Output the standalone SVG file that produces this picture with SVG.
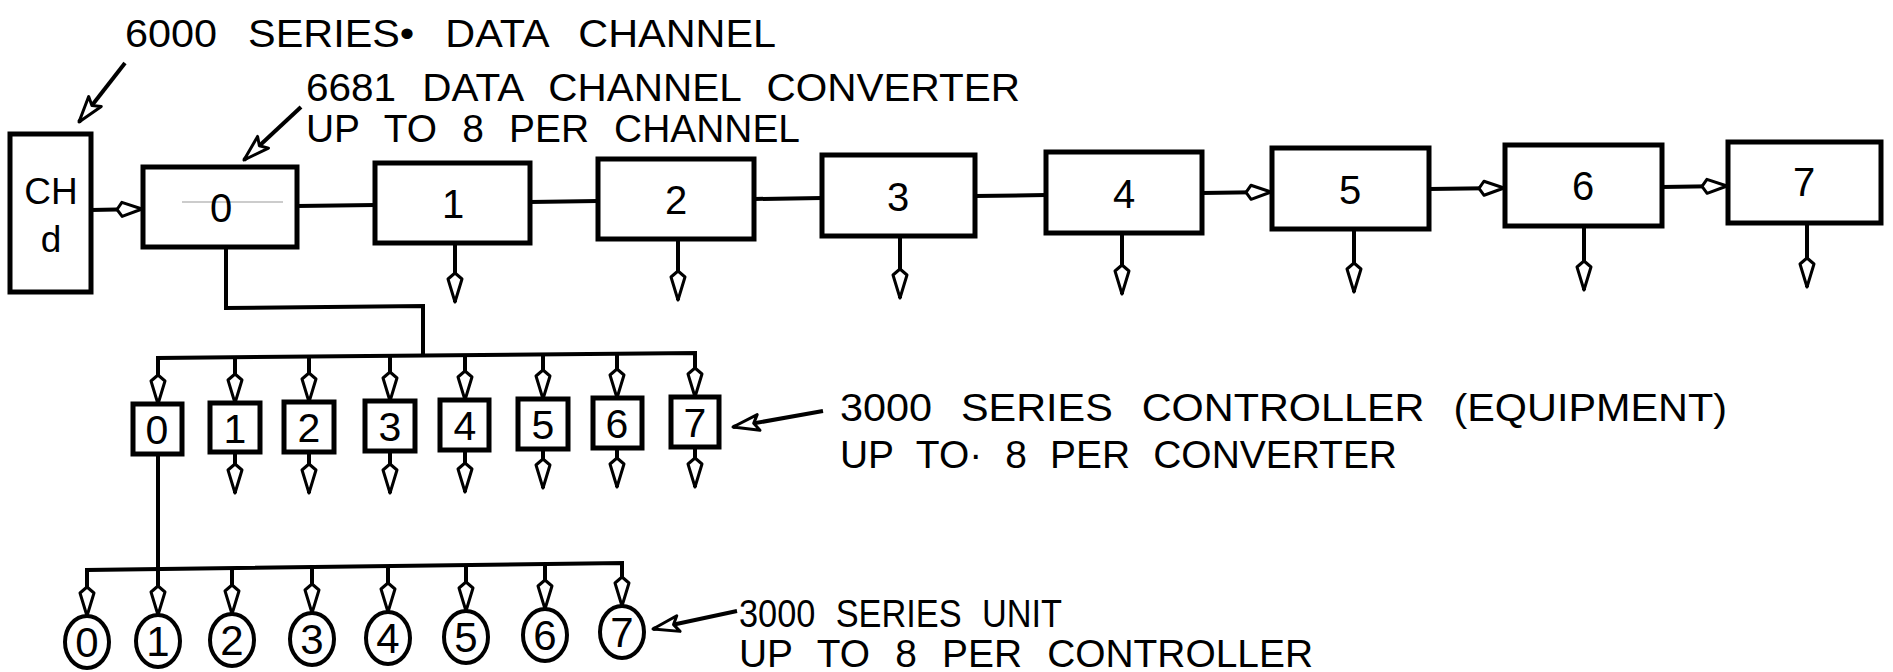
<svg xmlns="http://www.w3.org/2000/svg" width="1893" height="672" viewBox="0 0 1893 672">
<defs>
<style>
.box{fill:#fff;stroke:#000;stroke-width:5}
.ln{fill:none;stroke:#000;stroke-width:4;stroke-linejoin:miter}
.lbl{font-family:"Liberation Sans",Arial,sans-serif;font-size:38px;fill:#000}
.dg{font-family:"Liberation Sans",Arial,sans-serif;font-size:40px;fill:#000;text-anchor:middle}
.dch{font-family:"Liberation Sans",Arial,sans-serif;font-size:37px;fill:#000;text-anchor:middle}
.dc{font-family:"Liberation Sans",Arial,sans-serif;font-size:41px;fill:#000;text-anchor:middle}
.du{font-family:"Liberation Sans",Arial,sans-serif;font-size:42px;fill:#000;text-anchor:middle}
.unit{fill:#fff;stroke:#000;stroke-width:4}
.down{marker-end:url(#kite)}
.right{marker-end:url(#tri)}
.point{marker-end:url(#head)}
</style>
<marker id="kite" markerUnits="userSpaceOnUse" markerWidth="40" markerHeight="20" refX="29" refY="0" orient="auto" overflow="visible">
<path d="M0,0 L6,-7 L29,0 L6,7 Z" fill="#fff" stroke="#000" stroke-width="3" stroke-linejoin="round"/>
</marker>
<marker id="tri" markerUnits="userSpaceOnUse" markerWidth="30" markerHeight="20" refX="25" refY="0" orient="auto" overflow="visible">
<path d="M0,0 L5,-7 L25,0 L5,7 Z" fill="#fff" stroke="#000" stroke-width="3" stroke-linejoin="round"/>
</marker>
<marker id="head" markerUnits="userSpaceOnUse" markerWidth="30" markerHeight="20" refX="26" refY="0" orient="auto" overflow="visible">
<path d="M0,-8 L26,0 L0,8 L5,0 Z" fill="#fff" stroke="#000" stroke-width="3" stroke-linejoin="round"/>
</marker>
</defs>
<rect width="1893" height="672" fill="#fff"/>

<g id="connectors">
<path class="ln right" d="M91,210 L142,209"/>
<path class="ln" d="M297,206 L375,205"/>
<path class="ln" d="M530,202 L598,201"/>
<path class="ln" d="M754,199 L822,198"/>
<path class="ln" d="M975,196 L1046,195"/>
<path class="ln right" d="M1202,193 L1271,192"/>
<path class="ln right" d="M1429,189 L1504,188"/>
<path class="ln right" d="M1662,187 L1727,186"/>
<path class="ln down" d="M455,243 L455,302"/>
<path class="ln down" d="M678,239 L678,300"/>
<path class="ln down" d="M900,236 L900,298"/>
<path class="ln down" d="M1122,233 L1122,294"/>
<path class="ln down" d="M1354,229 L1354,292"/>
<path class="ln down" d="M1584,226 L1584,290"/>
<path class="ln down" d="M1807,223 L1807,287"/>
<path class="ln" d="M226,247 L226,308 L423,306 L423,357"/>
<path class="ln" d="M158,383 L158,358 L695,353 L695,380"/>
<path class="ln down" d="M158,358 L158,404"/>
<path class="ln down" d="M235,357 L235,403"/>
<path class="ln down" d="M309,357 L309,402"/>
<path class="ln down" d="M390,356 L390,401"/>
<path class="ln down" d="M465,355 L465,400"/>
<path class="ln down" d="M543,354 L543,399"/>
<path class="ln down" d="M617,354 L617,398"/>
<path class="ln down" d="M695,353 L695,397"/>
<path class="ln down" d="M235,452 L235,493"/>
<path class="ln down" d="M309,452 L309,493"/>
<path class="ln down" d="M390,451 L390,493"/>
<path class="ln down" d="M465,450 L465,492"/>
<path class="ln down" d="M543,449 L543,488"/>
<path class="ln down" d="M617,448 L617,487"/>
<path class="ln down" d="M695,447 L695,487"/>
<path class="ln" d="M87,595 L87,570 L622,563 L622,590"/>
<path class="ln down" d="M158,454 L158,615"/>
<path class="ln down" d="M87,570 L87,616"/>
<path class="ln down" d="M232,569 L232,614"/>
<path class="ln down" d="M312,568 L312,613"/>
<path class="ln down" d="M388,567 L388,612"/>
<path class="ln down" d="M466,566 L466,611"/>
<path class="ln down" d="M545,564 L545,609"/>
<path class="ln down" d="M622,563 L622,606"/>
<path class="ln point" d="M125,63 L79,122"/>
<path class="ln point" d="M301,107 L244,160"/>
<path class="ln point" d="M823,411 L733,427"/>
<path class="ln point" d="M737,611 L653,629"/>
</g>

<g id="label-channel">
<text class="lbl" x="125" y="47" textLength="651" lengthAdjust="spacingAndGlyphs" word-spacing="18">6000 SERIES• DATA CHANNEL</text>
</g>
<g id="label-converter">
<text class="lbl" x="306" y="101" textLength="714" lengthAdjust="spacingAndGlyphs" word-spacing="14">6681 DATA CHANNEL CONVERTER</text>
<text class="lbl" x="306" y="142" textLength="494" lengthAdjust="spacingAndGlyphs" word-spacing="14">UP TO 8 PER CHANNEL</text>
</g>
<g id="label-controller">
<text class="lbl" x="840" y="421" textLength="887" lengthAdjust="spacingAndGlyphs" word-spacing="16">3000 SERIES CONTROLLER (EQUIPMENT)</text>
<text class="lbl" x="840" y="468" textLength="557" lengthAdjust="spacingAndGlyphs" word-spacing="12">UP TO· 8 PER CONVERTER</text>
</g>
<g id="label-unit">
<text class="lbl" x="739" y="627" textLength="323" lengthAdjust="spacingAndGlyphs" word-spacing="12">3000 SERIES UNIT</text>
<text class="lbl" x="739" y="667" textLength="574" lengthAdjust="spacingAndGlyphs" word-spacing="14">UP TO 8 PER CONTROLLER</text>
</g>

<g id="channel">
<rect class="box" x="10" y="134" width="81" height="158"/>
<text class="dch" x="51" y="204">CH</text>
<text class="dch" x="51" y="252">d</text>
</g>

<g id="conv-0"><rect class="box" x="143" y="167" width="154" height="80"/><line x1="182" y1="202" x2="283" y2="202" stroke="#999" stroke-width="1"/><text class="dg" x="221" y="222">0</text></g>
<g id="conv-1"><rect class="box" x="375" y="163" width="155" height="80"/><text class="dg" x="453" y="218">1</text></g>
<g id="conv-2"><rect class="box" x="598" y="159" width="156" height="80"/><text class="dg" x="676" y="214">2</text></g>
<g id="conv-3"><rect class="box" x="822" y="155" width="153" height="81"/><text class="dg" x="898" y="211">3</text></g>
<g id="conv-4"><rect class="box" x="1046" y="152" width="156" height="81"/><text class="dg" x="1124" y="208">4</text></g>
<g id="conv-5"><rect class="box" x="1272" y="148" width="157" height="81"/><text class="dg" x="1350" y="204">5</text></g>
<g id="conv-6"><rect class="box" x="1505" y="145" width="157" height="81"/><text class="dg" x="1583" y="200">6</text></g>
<g id="conv-7"><rect class="box" x="1728" y="142" width="153" height="81"/><text class="dg" x="1804" y="196">7</text></g>

<g id="ctrl-0"><rect class="box" x="133" y="404" width="49" height="50"/><text class="dc" x="157" y="444">0</text></g>
<g id="ctrl-1"><rect class="box" x="210" y="403" width="50" height="49"/><text class="dc" x="235" y="443">1</text></g>
<g id="ctrl-2"><rect class="box" x="284" y="402" width="50" height="50"/><text class="dc" x="309" y="442">2</text></g>
<g id="ctrl-3"><rect class="box" x="365" y="401" width="50" height="50"/><text class="dc" x="390" y="441">3</text></g>
<g id="ctrl-4"><rect class="box" x="440" y="400" width="49" height="50"/><text class="dc" x="465" y="440">4</text></g>
<g id="ctrl-5"><rect class="box" x="518" y="399" width="50" height="50"/><text class="dc" x="543" y="439">5</text></g>
<g id="ctrl-6"><rect class="box" x="593" y="398" width="49" height="50"/><text class="dc" x="617" y="438">6</text></g>
<g id="ctrl-7"><rect class="box" x="671" y="397" width="48" height="50"/><text class="dc" x="695" y="437">7</text></g>

<g id="unit-0"><ellipse class="unit" cx="87" cy="642" rx="22" ry="26"/><text class="du" x="87" y="657">0</text></g>
<g id="unit-1"><ellipse class="unit" cx="158" cy="641" rx="22" ry="26"/><text class="du" x="158" y="656">1</text></g>
<g id="unit-2"><ellipse class="unit" cx="232" cy="640" rx="22" ry="26"/><text class="du" x="232" y="655">2</text></g>
<g id="unit-3"><ellipse class="unit" cx="312" cy="639" rx="22" ry="26"/><text class="du" x="312" y="654">3</text></g>
<g id="unit-4"><ellipse class="unit" cx="388" cy="638" rx="22" ry="26"/><text class="du" x="388" y="653">4</text></g>
<g id="unit-5"><ellipse class="unit" cx="466" cy="637" rx="22" ry="26"/><text class="du" x="466" y="652">5</text></g>
<g id="unit-6"><ellipse class="unit" cx="545" cy="635" rx="22" ry="26"/><text class="du" x="545" y="650">6</text></g>
<g id="unit-7"><ellipse class="unit" cx="622" cy="632" rx="22" ry="26"/><text class="du" x="622" y="647">7</text></g>
</svg>
